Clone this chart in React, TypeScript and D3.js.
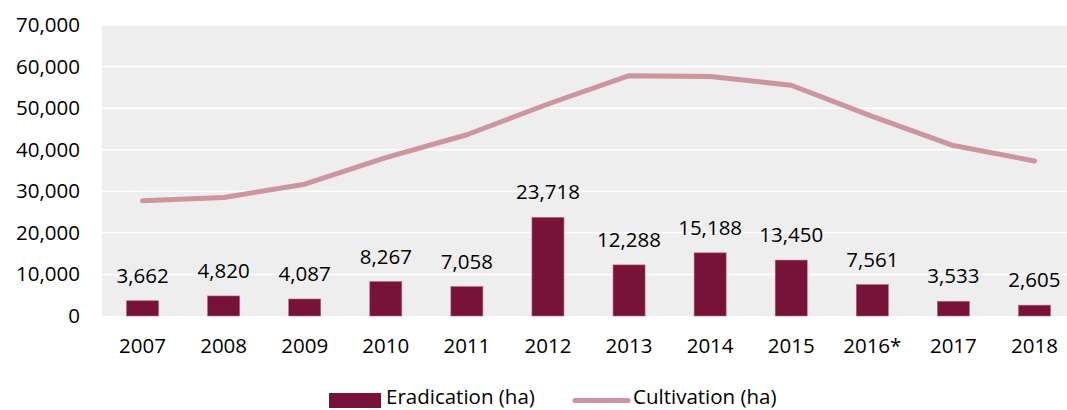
import React from "react";
import * as d3 from "d3";

const years = ["2007", "2008", "2009", "2010", "2011", "2012", "2013", "2014", "2015", "2016*", "2017", "2018"];
const eradication = [3662, 4820, 4087, 8267, 7058, 23718, 12288, 15188, 13450, 7561, 3533, 2605];
const cultivation = [27700, 28500, 31700, 38100, 43600, 51000, 57800, 57600, 55500, 48000, 41000, 37300];
const yTicks = [0, 10000, 20000, 30000, 40000, 50000, 60000, 70000];

const W = 1067;
const H = 410;
const left = 102;
const right = 1075;
const top = 25;
const bottom = 316;
const FONT = "'Open Sans', sans-serif";
const BAR = "#771239";
const LINE = "#cc95a0";
const FS = 20.5;

export default function App() {
  const x = d3.scaleBand<string>().domain(years).range([left, right]).paddingInner(0).paddingOuter(0);
  const y = d3.scaleLinear().domain([0, 70000]).range([bottom, top]);
  const bw = 32;
  const fmt = d3.format(",");
  const cx = (d: string) => (x(d) as number) + x.bandwidth() / 2;
  const line = d3
    .line<number>()
    .x((_, i) => cx(years[i]))
    .y((v) => y(v));

  return (
    <svg width={W} height={H} style={{ position: "absolute", left: 0, top: 0, overflow: "hidden" }} fontFamily={FONT}>
      <rect x={left} y={top} width={right - left} height={bottom - top} fill="#eeeeee" />
      {yTicks.slice(1).map((t) => (
        <line key={t} x1={left} x2={right} y1={y(t)} y2={y(t)} stroke="#ffffff" strokeWidth={1.5} />
      ))}
      {yTicks.map((t) => (
        <text key={t} x={80} y={y(t) + 7} textAnchor="end" fontSize={FS} fill="#000">
          {fmt(t)}
        </text>
      ))}
      {years.map((yr, i) => (
        <g key={yr}>
          <rect
            x={cx(yr) - bw / 2}
            y={y(eradication[i])}
            width={bw}
            height={bottom - y(eradication[i])}
            fill={BAR}
            stroke="#b5607a"
            strokeWidth={0.6}
          />
          <text x={cx(yr)} y={y(eradication[i]) - 18} textAnchor="middle" fontSize={FS} fill="#000">
            {fmt(eradication[i])}
          </text>
          <text x={cx(yr)} y={353} textAnchor="middle" fontSize={FS} fill="#000">
            {yr}
          </text>
        </g>
      ))}
      <path d={line(cultivation) || ""} fill="none" stroke={LINE} strokeWidth={5} strokeLinecap="round" strokeLinejoin="round" />
      <rect x={329} y={393} width={52} height={15} fill={BAR} />
      <text x={386} y={404} fontSize={FS} fill="#000">
        Eradication (ha)
      </text>
      <line x1={575} x2={628} y1={400.5} y2={400.5} stroke={LINE} strokeWidth={5} strokeLinecap="round" />
      <text x={633} y={404} fontSize={FS} fill="#000">
        Cultivation (ha)
      </text>
    </svg>
  );
}
